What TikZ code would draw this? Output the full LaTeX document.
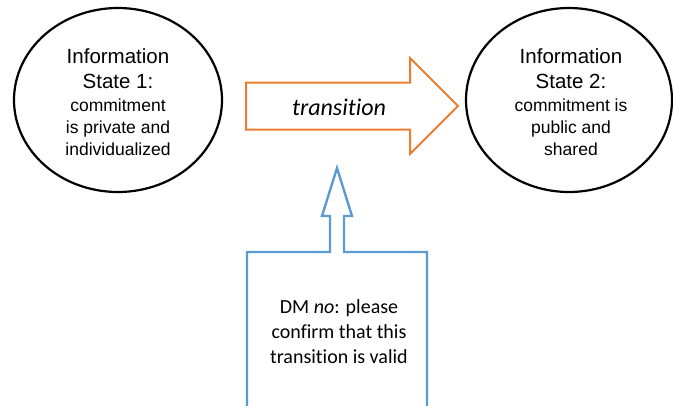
\documentclass[tikz,border=0pt]{standalone}
\usepackage{fontspec}
\setmainfont{Liberation Sans}
\newfontfamily\calfont[RawFeature=-liga]{Carlito}
\usetikzlibrary{shapes.geometric}
\definecolor{orng}{HTML}{ED7D31}
\definecolor{blu}{HTML}{5B9BD5}
\begin{document}
\begin{tikzpicture}[x=1pt,y=-1pt,
  state/.style={ellipse, draw=black, line width=2.2pt, inner sep=0pt, minimum height=184pt},
  statetext/.style={align=center, inner sep=0pt, font=\fontsize{20.5}{25}\selectfont},
  orarrow/.style={draw=orng, line width=2pt, line join=miter},
  bluarrow/.style={draw=blu, line width=2.4pt, line join=miter},
  caltext/.style={align=center, inner sep=0pt, font=\calfont\fontsize{20}{25}\selectfont}]
\useasboundingbox (0,0) rectangle (673,405);
% states
\node[state, minimum width=208pt] (s1) at (118,100) {};
\node[state, minimum width=206pt] (s2) at (569,100) {};
\node[statetext] (t1) at (118,102) {Information\\State 1:\\[-2pt]{\fontsize{17.5}{21.5}\selectfont commitment}\\[-3pt]{\fontsize{17.5}{21.5}\selectfont is private and}\\[-3pt]{\fontsize{17.5}{21.5}\selectfont individualized}};
\node[statetext] (t2) at (571,102) {Information\\State 2:\\[-2pt]{\fontsize{17.5}{21.5}\selectfont commitment is}\\[-3pt]{\fontsize{17.5}{21.5}\selectfont public and}\\[-3pt]{\fontsize{17.5}{21.5}\selectfont shared}};
% transition arrow
\coordinate (ta) at (246,106);
\draw[orarrow] (ta) ++(0,-23.5) -- (410,82.5) -- (410,58) -- (458,106) -- (410,154) -- (410,129.5) -- (246,129.5) -- cycle;
\node[caltext, font=\calfont\itshape\fontsize{24}{28}\selectfont] (tr) at (339,107) {transition};
% DM box with arrow
\draw[bluarrow] (247,412) -- (247,252) -- (330,252) -- (330,216) -- (322,216) -- (337,168) -- (352,216) -- (344,216) -- (344,252) -- (427,252) -- (427,412);
\node[caltext] (dm) at (339,332) {DM \textit{no}: please\\confirm that this\\transition is valid};
\end{tikzpicture}
\end{document}
